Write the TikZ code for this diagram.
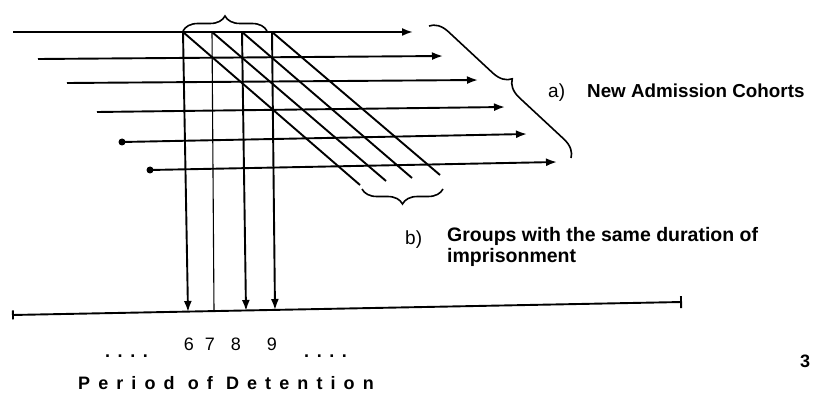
\documentclass[tikz,border=0pt]{standalone}
\usepackage{fontspec}
\setmainfont{Liberation Sans}
\usetikzlibrary{arrows.meta,decorations.pathreplacing,calc}
\begin{document}
\begin{tikzpicture}[x=1pt,y=-1pt,
  ln/.style={line width=1.9pt},
  thinln/.style={line width=1.1pt},
  arr/.style={ln,-{Latex[length=11pt,width=8pt]}},
  brc/.style={line width=1.6pt,decorate,decoration={brace,amplitude=#1}},
  lbl/.style={inner sep=0pt,anchor=base west,font=\fontsize{19.5}{21}\selectfont\bfseries},
  plainlbl/.style={inner sep=0pt,anchor=base west,font=\fontsize{19}{21}\selectfont},
  digit/.style={inner sep=0pt,anchor=base,font=\fontsize{18}{20}\selectfont},
  dotlbl/.style={inner sep=0pt,anchor=base west,font=\fontsize{18}{20}\selectfont\bfseries\addfontfeature{LetterSpace=42}},
  startdot/.style={circle,fill=black,inner sep=0pt,minimum size=7pt}
]
\useasboundingbox (0,0) rectangle (813,398);

% horizontal cohort lines
\coordinate (S1) at (13,32);   \coordinate (E1) at (413,32);
\coordinate (S2) at (38,59);   \coordinate (E2) at (443,56);
\coordinate (S3) at (67,83);   \coordinate (E3) at (478,80);
\coordinate (S4) at (97,112);  \coordinate (E4) at (505,107);
\node[startdot] (S5) at (122,142) {};  \coordinate (E5) at (527,134);
\node[startdot] (S6) at (150,170) {};  \coordinate (E6) at (557,162);

\foreach \i in {1,...,4} { \draw[arr] (S\i) -- (E\i); }
\draw[arr] (S5.center) -- (E5);
\draw[arr] (S6.center) -- (E6);

% axis
\coordinate (A1) at (12,315);
\coordinate (A2) at (682,302);
\draw[ln,{Bar[width=9pt]}-{Bar[width=12pt]}] (A1) -- (A2);

% verticals
\coordinate (T1) at (183,32); \coordinate (B1) at (188,312);
\coordinate (T2) at (212,32); \coordinate (B2) at (214,311);
\coordinate (T3) at (242,32); \coordinate (B3) at (246,311);
\coordinate (T4) at (272,32); \coordinate (B4) at (275,310);
\draw[arr] (T1) -- (B1);
\draw[thinln] (T2) -- (B2);
\draw[arr] (T3) -- (B3);
\draw[arr] (T4) -- (B4);

% diagonals
\coordinate (D1) at (360,185);
\coordinate (D2) at (386,181);
\coordinate (D3) at (412,178);
\coordinate (D4) at (440,175);
\foreach \i in {1,...,4} { \draw[ln] (T\i) -- (D\i); }

% braces
\coordinate (TB1) at (183,31); \coordinate (TB2) at (267,31);
\draw[brc=15pt] (TB1) -- (TB2);
\coordinate (RB1) at (429,26); \coordinate (RB2) at (571,158);
\draw[brc=18pt] (RB1) -- (RB2);
\coordinate (BB1) at (443,189); \coordinate (BB2) at (362,189);
\draw[brc=15pt] (BB1) -- (BB2);

% labels
\node[plainlbl] (la) at (548,98) {a)};
\node[lbl,font=\fontsize{18.8}{21}\selectfont\bfseries] (ta) at (587,98) {New Admission Cohorts};
\node[plainlbl] (lb) at (405,244) {b)};
\node[lbl] (tb1) at (447,241) {Groups with the same duration of};
\node[lbl] (tb2) at (447,262) {imprisonment};

\node[digit] (n6) at (189,350) {6};
\node[digit] (n7) at (210,350) {7};
\node[digit] (n8) at (236,350) {8};
\node[digit] (n9) at (272,350) {9};
\node[dotlbl] (dl) at (105,357) {....};
\node[dotlbl] (dr) at (304,357) {....};

\node[inner sep=0pt,anchor=base west,font=\fontsize{18}{20}\selectfont\bfseries\addfontfeature{LetterSpace=45}] (pd) at (78,389) {Period of Detention};
\node[inner sep=0pt,anchor=base west,font=\fontsize{18}{20}\selectfont\bfseries] (pg) at (800,367) {3};
\end{tikzpicture}
\end{document}
